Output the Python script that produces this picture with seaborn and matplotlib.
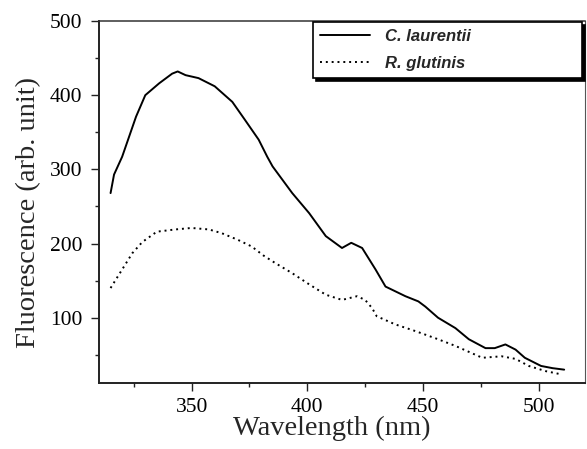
import matplotlib
matplotlib.use("Agg")
import matplotlib.pyplot as plt
from matplotlib.ticker import MultipleLocator
import seaborn as sns
import pandas as pd

# ---- data ----
wl_claurentii = [315, 316.5, 320, 323, 326, 330, 336, 341.6, 344, 347.4, 353, 360,
                 367.6, 373, 379, 382.7, 385, 393.5, 400.8, 408, 415, 419, 423.7,
                 429.5, 433.8, 442.4, 448, 451, 456.5, 464, 469.8, 477, 481, 485.6,
                 490, 494, 501, 506, 511]
fl_claurentii = [268, 293, 317, 344, 371, 400, 416, 429, 432, 427, 423, 412,
                 391, 367, 340, 317, 304, 268, 241, 210, 194, 201, 194,
                 165, 142, 129, 122, 115, 100, 86, 71, 59, 59, 64,
                 57, 46, 35, 32, 30]

wl_rglutinis = [315, 320, 324.4, 328.7, 335, 343, 350, 357.5, 363, 370, 376, 381,
                386, 393.5, 400.8, 408, 415, 421.5, 425, 428, 430, 438, 446.7,
                456.5, 464, 475.6, 484, 490, 495.7, 503, 510]
fl_rglutinis = [140, 165, 187, 202, 216, 219, 221, 219, 214, 205, 196, 184,
                174, 160, 145, 131, 124, 129, 124, 113, 102, 91, 82,
                71, 62, 46, 48, 44.5, 35, 28, 23.5]

label_c = "C. laurentii"
label_r = "R. glutinis"
x_label = "Wavelength (nm)"
y_label = "Fluorescence (arb. unit)"
x_ticks = [350, 400, 450, 500]
y_ticks = [100, 200, 300, 400, 500]

df_c = pd.DataFrame({"wl": wl_claurentii, "fl": fl_claurentii})
df_r = pd.DataFrame({"wl": wl_rglutinis, "fl": fl_rglutinis})

sns.set_theme(style="white")
plt.rcParams["font.family"] = ["Liberation Serif", "DejaVu Serif"]

fig = plt.figure(figsize=(5.87, 4.49), dpi=100)
ax = fig.add_axes([99 / 587, 1 - 383 / 449, 486 / 587, 362 / 449])

sns.lineplot(data=df_c, x="wl", y="fl", ax=ax, color="black", linewidth=1.4,
             label=label_c)
sns.lineplot(data=df_r, x="wl", y="fl", ax=ax, color="black", linewidth=1.4,
             linestyle=(0, (1, 2)), label=label_r)

ax.set_xlim(310, 520)
ax.set_ylim(12, 500)
ax.set_xticks(x_ticks)
ax.set_yticks(y_ticks)
ax.xaxis.set_minor_locator(MultipleLocator(25))
ax.yaxis.set_minor_locator(MultipleLocator(50))

ax.tick_params(bottom=True, left=True, top=False, right=False, which="both")
ax.tick_params(axis="both", which="major", direction="out", length=5.5, width=1.0,
               color="#222222", labelsize=15.5, pad=5, labelcolor="black")
ax.tick_params(axis="y", which="major", pad=6.5)
ax.tick_params(axis="both", which="minor", direction="out", length=3, width=1.0,
               color="#222222")

for side in ["left", "bottom"]:
    ax.spines[side].set_linewidth(1.4)
    ax.spines[side].set_color("#222222")
ax.spines["top"].set_linewidth(1.1)
ax.spines["top"].set_color("#333333")
ax.spines["right"].set_linewidth(0.8)
ax.spines["right"].set_color("#555555")

ax.set_xlabel(x_label, fontsize=20.5)
ax.set_ylabel(y_label, fontsize=20.5)
ax.xaxis.set_label_coords(0.479, -0.091)
ax.yaxis.set_label_coords(-0.119, 0.472)

leg = ax.legend(loc="upper left", bbox_to_anchor=(0.4403, 0.0, 0.5535, 0.9972),
                mode="expand", borderaxespad=0, frameon=True, fancybox=False,
                shadow={"color": "black", "alpha": 1, "ox": 2.5, "oy": -2.5},
                edgecolor="black", framealpha=1, handlelength=3.0,
                handletextpad=0.9, labelspacing=0.75, borderpad=0.4,
                prop={"family": ["Liberation Sans", "DejaVu Sans"],
                      "style": "italic", "weight": "bold", "size": 12})
leg.get_frame().set_linewidth(1.2)

fig.savefig("out.png", dpi=100)
